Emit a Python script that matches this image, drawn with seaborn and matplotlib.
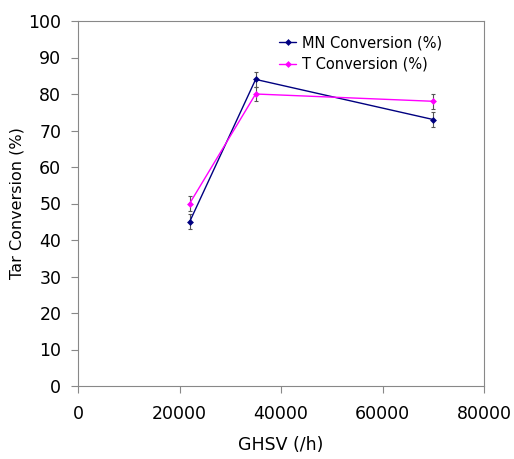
import matplotlib
matplotlib.use("Agg")
import matplotlib.pyplot as plt
import seaborn as sns
import pandas as pd

ghsv = [22000, 35000, 70000]
mn_conv = [45, 84, 73]
t_conv = [50, 80, 78]
mn_err = [2, 2, 2]
t_err = [2, 2, 2]
series_names = ["MN Conversion (%)", "T Conversion (%)"]
colors = ["#000080", "#FF00FF"]

df = pd.DataFrame({
    "GHSV": ghsv * 2,
    "conv": mn_conv + t_conv,
    "err": mn_err + t_err,
    "series": [series_names[0]] * 3 + [series_names[1]] * 3,
})

sns.set_style("white")
plt.rcParams['font.family'] = ['DejaVu Sans']
plt.rcParams['text.color'] = 'black'
plt.rcParams['axes.labelcolor'] = 'black'
plt.rcParams['xtick.color'] = 'black'
plt.rcParams['ytick.color'] = 'black'

fig = plt.figure(figsize=(5.14, 4.59), dpi=100)
ax = fig.add_axes([78/514, 73/459, 406/514, 365/459])

for name, c in zip(series_names, colors):
    sub = df[df.series == name]
    ax.errorbar(sub.GHSV, sub.conv, yerr=sub.err, fmt="none", ecolor="#555555",
                elinewidth=0.8, capsize=1.5, capthick=0.8, zorder=1)

sns.lineplot(data=df, x="GHSV", y="conv", hue="series", palette=colors,
             marker="D", markersize=3.5, markeredgewidth=0, linewidth=1.0,
             ax=ax, legend=True, zorder=2)

ax.set_xlim(0, 80000)
ax.set_ylim(0, 100)
ax.set_xticks([0, 20000, 40000, 60000, 80000])
ax.set_yticks(range(0, 101, 10))
ax.tick_params(axis="both", direction="out", length=5, width=0.8, color="#888888",
               labelsize=12.5, bottom=True, left=True, labelcolor="black")
ax.tick_params(axis="x", pad=9)
ax.tick_params(axis="y", pad=7)
for s in ax.spines.values():
    s.set_color("#888888")
    s.set_linewidth(0.8)
ax.set_xlabel("GHSV (/h)", fontsize=12.5, labelpad=9, color="black")
ax.set_ylabel("Tar Conversion (%)", fontsize=11.5, labelpad=3, color="black")

leg = ax.legend(loc="upper right", bbox_to_anchor=(0.93, 0.997), frameon=False,
                fontsize=10.5, handlelength=1.2, handletextpad=0.4, labelspacing=0.45)
for t in leg.get_texts():
    t.set_color("black")

fig.savefig("out.png", dpi=100)
